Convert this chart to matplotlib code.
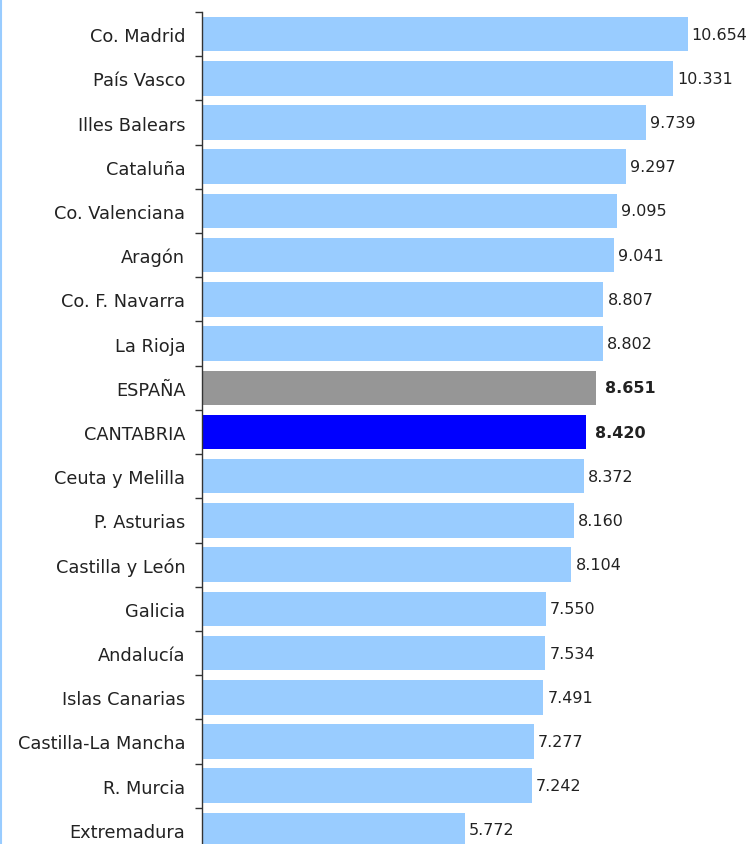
import matplotlib.pyplot as plt
from matplotlib.lines import Line2D
import numpy as np

# Regions, top to bottom as drawn
regions = ["Co. Madrid", "País Vasco", "Illes Balears", "Cataluña",
           "Co. Valenciana", "Aragón", "Co. F. Navarra", "La Rioja",
           "ESPAÑA", "CANTABRIA", "Ceuta y Melilla", "P. Asturias",
           "Castilla y León", "Galicia", "Andalucía", "Islas Canarias",
           "Castilla-La Mancha", "R. Murcia", "Extremadura"]
values = [10654, 10331, 9739, 9297, 9095, 9041, 8807, 8802, 8651, 8420,
          8372, 8160, 8104, 7550, 7534, 7491, 7277, 7242, 5772]

highlight = {"ESPAÑA": "#969696", "CANTABRIA": "#0000FF"}
colors = [highlight.get(r, "#99CCFF") for r in regions]

fig = plt.figure(figsize=(7.49, 8.45), dpi=100)
ax = fig.add_axes([202 / 749, -8 / 845, 547 / 749, 840 / 845])

y = np.arange(len(regions))
ax.barh(y, values, height=0.78, color=colors, edgecolor="none")
ax.set_ylim(len(regions) - 0.5, -0.5)
ax.set_xlim(0, 12000)

for yi, v, r in zip(y, values, regions):
    txt = f"{v:,}".replace(",", ".")
    bold = r in highlight
    ax.annotate(txt, (v, yi), xytext=(9 if bold else 4, 0),
                textcoords="offset pixels",
                va="center", ha="left", fontsize=11.5,
                fontweight="bold" if bold else "normal", color="#222222")

ax.set_yticks(y)
ax.set_yticklabels(regions, fontsize=12.8, color="#222222")
ax.tick_params(axis="y", which="major", length=0, pad=12)
ax.set_yticks(np.arange(-0.5, len(regions), 1), minor=True)
ax.tick_params(axis="y", which="minor", length=5, width=1, direction="out", color="#333333")
ax.set_xticks([])

for side in ["top", "right", "bottom"]:
    ax.spines[side].set_visible(False)
ax.spines["left"].set_color("#333333")
ax.spines["left"].set_linewidth(1)

# thin light-blue border at the left edge of the picture
fig.add_artist(Line2D([0.001, 0.001], [0, 1], transform=fig.transFigure,
                      color="#99CCFF", linewidth=1.5))

fig.savefig("out.png", dpi=100)
